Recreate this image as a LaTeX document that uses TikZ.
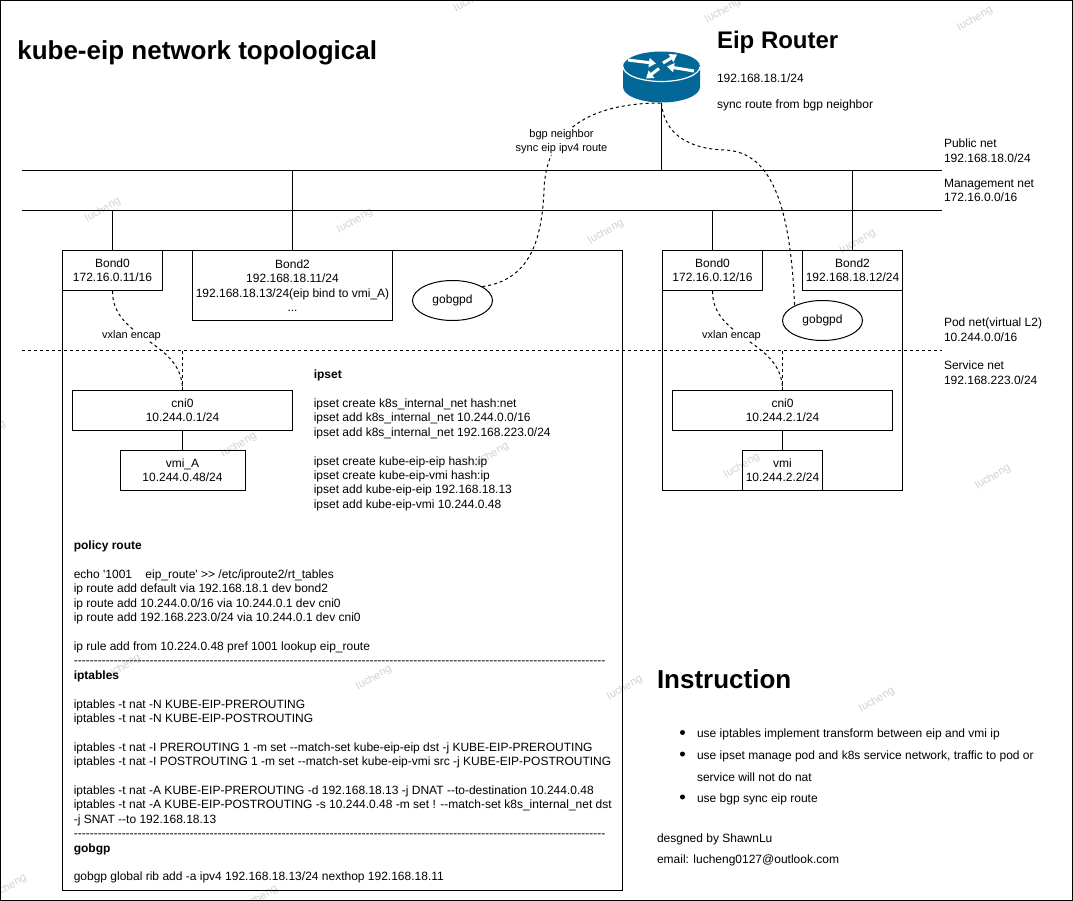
\documentclass[tikz,border=0pt]{standalone}
\usepackage{fontspec}
\usetikzlibrary{arrows.meta, shapes.geometric}
\newfontfamily\netfont{Liberation Sans}
\newcommand{\netsize}{\netfont\fontsize{12}{14.4}\selectfont}
\newcommand{\smallsize}{\netfont\fontsize{11}{14}\selectfont}
\newcommand{\headsize}{\netfont\bfseries\fontsize{26}{30}\selectfont}
\definecolor{routercolor}{HTML}{036897}
\begin{document}
\begin{tikzpicture}[
    x=1pt, y=-1pt, line width=1pt,
    box/.style={rectangle, draw=black, align=center, inner sep=0pt, execute at begin node=\rule{0pt}{13pt}, font=\netsize},
    daemon/.style={ellipse, draw=black, fill=white, minimum width=80pt, minimum height=40pt, inner sep=0pt, font=\netsize},
    lbl/.style={anchor=north west, align=left, inner sep=0pt, font=\netsize},
    line/.style={anchor=base west, inner sep=0pt, font=\netsize},
    encap/.style={fill=white, align=center, inner sep=0.5pt, font=\smallsize},
    dashln/.style={dash pattern=on 3pt off 3pt},
    marrow/.style={draw=white, line width=3pt, -{Triangle[length=7pt, width=9pt]}},
    wmark/.style={rotate=30, text=black!18, inner sep=0pt, font=\smallsize},
    dot/.style={circle, fill=black, inner sep=0pt, minimum size=5pt},
  ]
    \clip (0,0) rectangle (1073,901);

    % Watermark
    \node[wmark] (wm1) at (472,0) {lucheng};
    \node[wmark] (wm2) at (723,11) {lucheng};
    \node[wmark] (wm3) at (975,19) {lucheng};
    \node[wmark] (wm4) at (103,210) {lucheng};
    \node[wmark] (wm5) at (355,221) {lucheng};
    \node[wmark] (wm6) at (606,232) {lucheng};
    \node[wmark] (wm7) at (858,242) {lucheng};
    \node[wmark] (wm8) at (-12,433) {lucheng};
    \node[wmark] (wm9) at (239,445) {lucheng};
    \node[wmark] (wm10) at (491,455) {lucheng};
    \node[wmark] (wm11) at (742,466) {lucheng};
    \node[wmark] (wm12) at (993,477) {lucheng};
    \node[wmark] (wm13) at (123,667) {lucheng};
    \node[wmark] (wm14) at (374,678) {lucheng};
    \node[wmark] (wm15) at (625,688) {lucheng};
    \node[wmark] (wm16) at (877,700) {lucheng};
    \node[wmark] (wm17) at (9,887) {lucheng};
    \node[wmark] (wm18) at (260,898) {lucheng};

    % Outer frame
    \draw (0.5,0.5) rectangle (1072.5,900.5);

    % Title and router text
    \node[anchor=base west, inner sep=0pt, font=\headsize] (title) at (16.8,59.5) {kube-eip network topological};
    \node[anchor=base west, inner sep=0pt, font=\netfont\bfseries\fontsize{24}{28}\selectfont] (eiptitle) at (716.5,48.5) {Eip Router};
    \node[line] (eipaddr) at (716.5,82.5) {192.168.18.1/24};
    \node[line] (eipsync) at (716.5,108.5) {sync route from bgp neighbor};

    % Router icon
    \fill[routercolor] (623,66.5) -- (623,87) arc[start angle=180, end angle=0, x radius=38.5, y radius=15.5] -- (700,66.5) -- cycle;
    \fill[routercolor] (661.5,66.5) ellipse[x radius=38.5, y radius=15];
    \draw[white, line width=1.2pt] (623,66.5) arc[start angle=180, end angle=0, x radius=38.5, y radius=15];
    \draw[marrow] (628,60) -- (656,63.5);
    \draw[marrow] (663,63) -- (677,54.5);
    \draw[marrow] (694,71) -- (667,66.5);
    \draw[marrow] (659,68.5) -- (646,78.5);
    \coordinate (router) at (661.5,103);

    % Net lines
    \coordinate (publ) at (22,170.5);
    \coordinate (pubr) at (942,170.5);
    \coordinate (mgtl) at (22,210.5);
    \coordinate (mgtr) at (942,210.5);
    \coordinate (podl) at (22,350.5);
    \coordinate (podr) at (942,350.5);
    \draw (publ) -- (pubr);
    \draw (mgtl) -- (mgtr);
    \draw[dashln] (podl) -- (podr);

    % Net labels
    \node[lbl] (publbl) at (943.5,138.5) {Public net\\192.168.18.0/24};
    \node[lbl] (mgtlbl) at (943.5,178.5) {Management net\\172.16.0.0/16};
    \node[lbl] (podlbl) at (943.5,317.5) {Pod net(virtual L2)\\10.244.0.0/16};
    \node[lbl] (svclbl) at (943.5,360.5) {Service net\\192.168.223.0/24};

    % Node 11
    \node[box, minimum width=560pt, minimum height=640pt] (host1) at (342.5,570.5) {};
    \node[box, minimum width=100pt, minimum height=40pt] (bond01) at (112.5,270.5) {Bond0\\172.16.0.11/16};
    \node[box, minimum width=200pt, minimum height=70pt] (bond21) at (292.5,285.5) {Bond2\\192.168.18.11/24\\192.168.18.13/24(eip bind to vmi\_A)\\...};
    \node[daemon] (gobgpd1) at (452.5,300.5) {gobgpd};
    \node[box, minimum width=220pt, minimum height=40pt] (cni1) at (182.5,410.5) {cni0\\10.244.0.1/24};
    \node[box, minimum width=125pt, minimum height=40pt] (vmia) at (182.5,470.5) {vmi\_A\\10.244.0.48/24};

    % Node 12
    \node[box, minimum width=240pt, minimum height=240pt] (host2) at (782.5,370.5) {};
    \node[box, minimum width=100pt, minimum height=40pt] (bond02) at (712.5,270.5) {Bond0\\172.16.0.12/16};
    \node[box, minimum width=100pt, minimum height=40pt] (bond22) at (852.5,270.5) {Bond2\\192.168.18.12/24};
    \node[daemon] (gobgpd2) at (822.5,320.5) {gobgpd};
    \node[box, minimum width=220pt, minimum height=40pt] (cni2) at (782.5,410.5) {cni0\\10.244.2.1/24};
    \node[box, minimum width=80pt, minimum height=40pt] (vmib) at (782.5,470.5) {vmi\\10.244.2.2/24};

    % Links
    \coordinate (router0) at (661.5,170.5);
    \coordinate (bond21t) at (292.5,170.5);
    \coordinate (bond01t) at (112.5,210.5);
    \coordinate (bond02t) at (712.5,210.5);
    \coordinate (bond22t) at (852.5,170.5);
    \coordinate (podc1) at (182.5,350.5);
    \coordinate (podc2) at (782.5,350.5);
    \draw (router) -- (router0);
    \draw (bond21t) -- (bond21);
    \draw (bond01t) -- (bond01);
    \draw (bond02t) -- (bond02);
    \draw (bond22t) -- (bond22);
    \draw (cni1) -- (vmia);
    \draw (cni2) -- (vmib);
    \draw[dashln] (podc1) -- (cni1);
    \draw[dashln] (podc2) -- (cni2);

    % Tunnels and bgp sessions
    \draw[dashln] (bond01.south) .. controls (112.5,340) and (182.5,340) .. (cni1.north);
    \draw[dashln] (bond02.south) .. controls (712.5,340) and (782.5,340) .. (cni2.north);
    \draw[dashln] (gobgpd1.25) .. controls (530,280) and (542,240) .. (544,190) .. controls (546,130) and (590,103) .. (router);
    \draw[dashln] (router) .. controls (664,135) and (690,149) .. (725,150) .. controls (765,152) and (790,190) .. (gobgpd2.152);
    \node[encap] (encap1) at (131.5,335.5) {vxlan encap};
    \node[encap] (encap2) at (731.5,335.5) {vxlan encap};
    \node[encap] (bgplbl) at (561.5,142) {bgp neighbor\\sync eip ipv4 route};

    % Command text
    \node[lbl] (ipset) at (313.3,369.5) {\textbf{ipset}\\[14.4pt]
      ipset create k8s\_internal\_net hash:net\\
      ipset add k8s\_internal\_net 10.244.0.0/16\\
      ipset add k8s\_internal\_net 192.168.223.0/24\\[14.4pt]
      ipset create kube-eip-eip hash:ip\\
      ipset create kube-eip-vmi hash:ip\\
      ipset add kube-eip-eip 192.168.18.13\\
      ipset add kube-eip-vmi 10.244.0.48};
    \node[lbl] (policy) at (73.3,540.5) {\textbf{policy route}\\[14.4pt]
      echo '1001\ \ \ \ eip\_route' >> /etc/iproute2/rt\_tables\\
      ip route add default via 192.168.18.1 dev bond2\\
      ip route add 10.244.0.0/16 via 10.244.0.1 dev cni0\\
      ip route add 192.168.223.0/24 via 10.244.0.1 dev cni0\\[14.4pt]
      ip rule add from 10.224.0.48 pref 1001 lookup eip\_route\\
      -------------------------------------------------------------------------------------------------------------------------------------\\
      \textbf{iptables}\\[14.4pt]
      iptables -t nat -N KUBE-EIP-PREROUTING\\
      iptables -t nat -N KUBE-EIP-POSTROUTING\\[14.4pt]
      iptables -t nat -I PREROUTING 1 -m set --match-set kube-eip-eip dst -j KUBE-EIP-PREROUTING\\
      iptables -t nat -I POSTROUTING 1 -m set --match-set kube-eip-vmi src -j KUBE-EIP-POSTROUTING\\[14.4pt]
      iptables -t nat -A KUBE-EIP-PREROUTING -d 192.168.18.13 -j DNAT --to-destination 10.244.0.48\\
      iptables -t nat -A KUBE-EIP-POSTROUTING -s 10.244.0.48 -m set ! --match-set k8s\_internal\_net dst\\
      -j SNAT --to 192.168.18.13\\
      -------------------------------------------------------------------------------------------------------------------------------------\\
      \textbf{gobgp}\\[14.4pt]
      gobgp global rib add -a ipv4 192.168.18.13/24 nexthop 192.168.18.11};

    % Instruction
    \node[anchor=base west, inner sep=0pt, font=\headsize] (instr) at (656.5,688) {Instruction};
    \node[dot] (dot1) at (682.5,732.5) {};
    \node[dot] (dot2) at (682.5,754) {};
    \node[dot] (dot3) at (682.5,797) {};
    \node[line] (item1) at (696.5,737) {use iptables implement transform between eip and vmi ip};
    \node[line] (item2) at (696.5,759) {use ipset manage pod and k8s service network, traffic to pod or};
    \node[line] (item2b) at (696.5,781) {service will not do nat};
    \node[line] (item3) at (696.5,802) {use bgp sync eip route};
    \node[line] (credit) at (656.5,842) {desgned by ShawnLu};
    \node[line] (email) at (656.5,863) {email: lucheng0127@outlook.com};
  \end{tikzpicture}
\end{document}
